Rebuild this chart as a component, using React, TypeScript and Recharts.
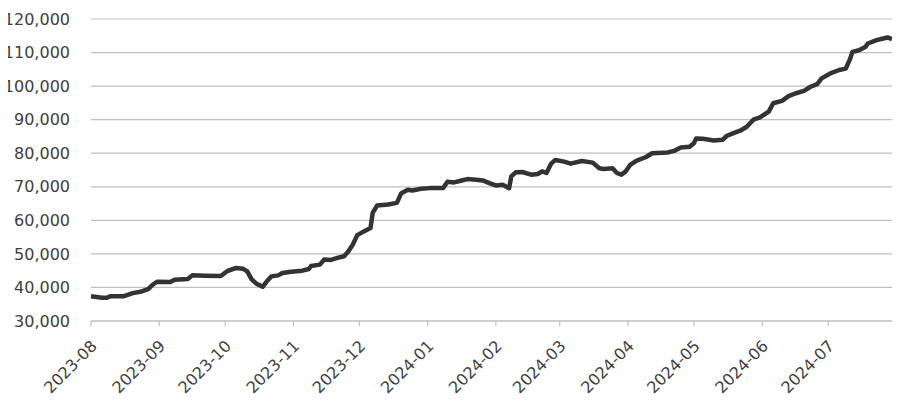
import { LineChart, Line, XAxis, YAxis, CartesianGrid } from 'recharts';

const dates = [
  '2023-08-01', '2023-08-06', '2023-08-08', '2023-08-10', '2023-08-16', '2023-08-20',
  '2023-08-24', '2023-08-27', '2023-08-29', '2023-08-31', '2023-09-06', '2023-09-08',
  '2023-09-14', '2023-09-16', '2023-09-22', '2023-09-29', '2023-10-02', '2023-10-06',
  '2023-10-09', '2023-10-11', '2023-10-13', '2023-10-15', '2023-10-18', '2023-10-20',
  '2023-10-22', '2023-10-25', '2023-10-27', '2023-10-31', '2023-11-05', '2023-11-08',
  '2023-11-09', '2023-11-13', '2023-11-15', '2023-11-18', '2023-11-21', '2023-11-24',
  '2023-11-26', '2023-11-28', '2023-11-30', '2023-12-03', '2023-12-06', '2023-12-07',
  '2023-12-09', '2023-12-14', '2023-12-18', '2023-12-20', '2023-12-23', '2023-12-25',
  '2023-12-29', '2024-01-02', '2024-01-08', '2024-01-10', '2024-01-13', '2024-01-16',
  '2024-01-19', '2024-01-23', '2024-01-26', '2024-01-29', '2024-02-01', '2024-02-04',
  '2024-02-07', '2024-02-08', '2024-02-10', '2024-02-13', '2024-02-17', '2024-02-20',
  '2024-02-22', '2024-02-24', '2024-02-26', '2024-02-28', '2024-03-03', '2024-03-06',
  '2024-03-11', '2024-03-16', '2024-03-19', '2024-03-21', '2024-03-25', '2024-03-27',
  '2024-03-29', '2024-03-31', '2024-04-02', '2024-04-05', '2024-04-09', '2024-04-12',
  '2024-04-19', '2024-04-22', '2024-04-25', '2024-04-29', '2024-05-01', '2024-05-02',
  '2024-05-05', '2024-05-10', '2024-05-14', '2024-05-16', '2024-05-19', '2024-05-22',
  '2024-05-25', '2024-05-28', '2024-05-31', '2024-06-04', '2024-06-06', '2024-06-10',
  '2024-06-13', '2024-06-16', '2024-06-20', '2024-06-23', '2024-06-26', '2024-06-28',
  '2024-07-02', '2024-07-06', '2024-07-09', '2024-07-11', '2024-07-12', '2024-07-15',
  '2024-07-18', '2024-07-19', '2024-07-23', '2024-07-26', '2024-07-28', '2024-07-30',
];

const values = [
  37400, 36900, 36900, 37400, 37400, 38300,
  38800, 39500, 40800, 41700, 41600, 42300,
  42500, 43600, 43500, 43400, 44900, 45800,
  45600, 44800, 42400, 41200, 40200, 41900,
  43300, 43600, 44300, 44700, 45000, 45500,
  46400, 46800, 48300, 48200, 48800, 49300,
  50800, 52800, 55600, 56700, 57700, 62200,
  64400, 64700, 65200, 68100, 69100, 68900,
  69400, 69600, 69600, 71500, 71300, 71800,
  72300, 72100, 71900, 71100, 70400, 70600,
  69600, 73100, 74300, 74400, 73600, 73800,
  74600, 74100, 76800, 78000, 77500, 76900,
  77700, 77200, 75500, 75300, 75500, 74100,
  73600, 74600, 76500, 77800, 78800, 80000,
  80200, 80700, 81700, 81900, 83000, 84400,
  84300, 83800, 84000, 85200, 86000, 86700,
  87900, 90000, 90700, 92400, 94900, 95600,
  97000, 97800, 98600, 99800, 100600, 102300,
  103800, 104800, 105200, 108200, 110200, 110700,
  111700, 112700, 113700, 114200, 114500, 114000,
];

const monthLabels = [
  '2023-08', '2023-09', '2023-10', '2023-11', '2023-12', '2024-01',
  '2024-02', '2024-03', '2024-04', '2024-05', '2024-06', '2024-07',
];

const yTicks = [30000, 40000, 50000, 60000, 70000, 80000, 90000, 100000, 110000, 120000];

const FONT = '"DejaVu Sans", sans-serif';
const TEXT = '#404040';
const GRID = '#bfbfbf';

const origin = Date.UTC(2023, 7, 1);
const dayOf = (s: string) => {
  const [y, m, d] = s.split('-').map(Number);
  return Math.round((Date.UTC(y, m - 1, d || 1) - origin) / 86400000);
};

const data = dates.map((d, i) => ({ day: dayOf(d), value: values[i] }));
const monthTicks = monthLabels.map(dayOf);
const labelOf = new Map(monthTicks.map((d, i) => [d, monthLabels[i]]));

function MonthTick({ x, y, payload }: any) {
  const ax = x + 7;
  const ay = y + 19;
  return (
    <text
      x={ax}
      y={ay}
      transform={`rotate(-45, ${ax}, ${ay})`}
      textAnchor="end"
      fill={TEXT}
      fontSize={16}
      fontFamily={FONT}
    >
      {labelOf.get(payload.value)}
    </text>
  );
}

export default function App() {
  // pull the chart over the body margin so the wide y labels fit
  return (
    <div style={{ width: 900, height: 404, margin: '-8px 0 0 -8px', background: '#fff' }}>
      <LineChart width={900} height={404} data={data} margin={{ top: 19, right: 8, left: 0, bottom: 0 }}>
        <CartesianGrid vertical={false} stroke={GRID} strokeWidth={1.2} />
        <XAxis
          dataKey="day"
          type="number"
          domain={['dataMin', 'dataMax']}
          ticks={monthTicks}
          interval={0}
          height={83}
          axisLine={{ stroke: GRID, strokeWidth: 1.2 }}
          tickLine={{ stroke: GRID, strokeWidth: 1.2 }}
          tickSize={5}
          tick={<MonthTick />}
        />
        <YAxis
          domain={[30000, 120000]}
          ticks={yTicks}
          interval={0}
          width={91}
          axisLine={false}
          tickLine={false}
          tickSize={6}
          tickMargin={15}
          tickFormatter={(v: number) => v.toLocaleString('en-US')}
          tick={{ fill: TEXT, fontSize: 16, fontFamily: FONT }}
        />
        <Line
          type="linear"
          dataKey="value"
          stroke="#333333"
          strokeWidth={4.5}
          strokeLinejoin="round"
          dot={false}
          isAnimationActive={false}
        />
      </LineChart>
    </div>
  );
}
